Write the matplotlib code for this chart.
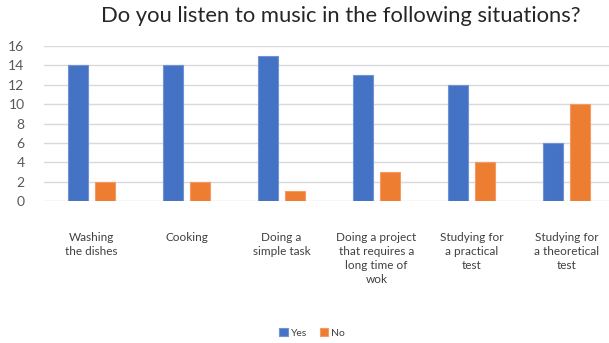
import numpy as np
import matplotlib
matplotlib.use("Agg")
import matplotlib.pyplot as plt

categories = ["Washing\nthe dishes", "Cooking", "Doing a\nsimple task",
              "Doing a project\nthat requires a\nlong time of\nwok",
              "Studying for\na practical\ntest", "Studying for\na theoretical\ntest"]
yes = [14, 14, 15, 13, 12, 6]
no = [2, 2, 1, 3, 4, 10]
yticks = [0, 2, 4, 6, 8, 10, 12, 14, 16]

BLUE = "#4472C4"
ORANGE = "#ED7D31"

plt.rcParams['font.family'] = ['Lato', 'DejaVu Sans']

fig = plt.figure(figsize=(6.09, 3.43), dpi=100)
W, H = 609, 343
# axes in pixel terms: left 44, right 614, top 46, bottom 201
ax = fig.add_axes([44 / W, 1 - 201 / H, 570 / W, 155 / H])

x = np.arange(len(categories))
bw = 0.22
ax.bar(x - 0.142, yes, bw, color=BLUE, edgecolor="#6F93D6", linewidth=0.8, label="Yes", zorder=3)
ax.bar(x + 0.142, no, bw, color=ORANGE, edgecolor="#F29B62", linewidth=0.8, label="No", zorder=3)

ax.set_xlim(-0.5, len(categories) - 0.5)
ax.set_ylim(0, 16)
ax.set_yticks(yticks)
ax.yaxis.grid(True, color="#D9D9D9", linewidth=1)
ax.set_axisbelow(True)
for s in ax.spines.values():
    s.set_visible(False)
ax.tick_params(axis="y", length=0, labelsize=10, labelcolor="#595959", pad=14)
ax.set_xticks(x)
ax.set_xticklabels(categories, fontsize=8.5, color="#404040", linespacing=1.35, va="top")
ax.tick_params(axis="x", length=0, pad=22)

fig.text(341 / W, 1 - 16 / H, "Do you listen to music in the following situations?",
         ha="center", va="center", fontsize=15.8, color="#262626")

leg = fig.legend(loc="center", bbox_to_anchor=(312 / W, 1 - 333 / H), ncol=2, frameon=False,
                 fontsize=7.5, handlelength=0.8, handleheight=0.8, handletextpad=0.3,
                 columnspacing=1.2)
for t in leg.get_texts():
    t.set_color("#404040")

fig.savefig("out.png", dpi=100)
